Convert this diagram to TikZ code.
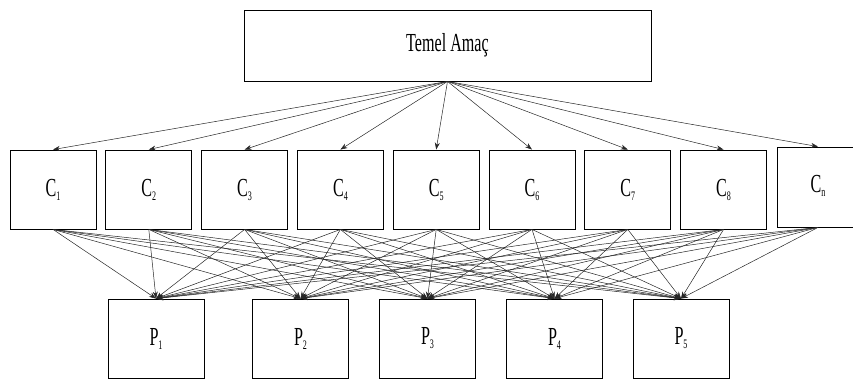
\documentclass[tikz,border=0pt]{standalone}
\usepackage{fontspec}
\setmainfont{Liberation Serif}[FakeStretch=0.62]
\usetikzlibrary{arrows.meta}
\newcommand{\lab}[2]{{\fontsize{26}{26}\selectfont #1}\raisebox{-4pt}{\fontsize{13}{13}\selectfont #2}}
\tikzset{
  box/.style={draw=black, line width=0.85pt, fill=white, inner sep=0pt, minimum width=#1},
  cbox/.style={box=86pt, minimum height=79pt},
  pbox/.style={box=96pt, minimum height=79pt},
  link/.style={draw=black!85, line width=0.5pt, -{Stealth[length=7pt,width=5pt]}},
}
\begin{document}
\begin{tikzpicture}[x=1pt,y=-1pt]
\useasboundingbox (0,0) rectangle (853,379);
\node[box=407pt, minimum height=71pt] (T) at (447.5,45.5) {\fontsize{26}{26}\selectfont Temel Amaç};
\node[cbox] (C1) at (53,189.5) {\lab{C}{1}};
\node[cbox] (C2) at (148.8,189.5) {\lab{C}{2}};
\node[cbox] (C3) at (244.6,189.5) {\lab{C}{3}};
\node[cbox] (C4) at (340.4,189.5) {\lab{C}{4}};
\node[cbox] (C5) at (436.2,189.5) {\lab{C}{5}};
\node[cbox] (C6) at (532,189.5) {\lab{C}{6}};
\node[cbox] (C7) at (627.8,189.5) {\lab{C}{7}};
\node[cbox] (C8) at (723.6,189.5) {\lab{C}{8}};
\node[box=82pt, minimum height=80pt] (C9) at (818,187) {\raisebox{6pt}{\lab{C}{n}}};
\node[pbox] (P1) at (156,338.5) {\lab{P}{1}};
\node[pbox] (P2) at (300.5,338.5) {\lab{P}{2}};
\node[pbox] (P3) at (427.5,338.5) {\lab{P}{3}};
\node[pbox] (P4) at (554.5,338.5) {\lab{P}{4}};
\node[pbox] (P5) at (681,338.5) {\lab{P}{5}};
\foreach \i in {1,...,9} {
  \draw[link] (T.south) -- (C\i.north);
  \foreach \j in {1,...,5} {
    \draw[link] (C\i.south) -- (P\j.north);
  }
}
\end{tikzpicture}
\end{document}
